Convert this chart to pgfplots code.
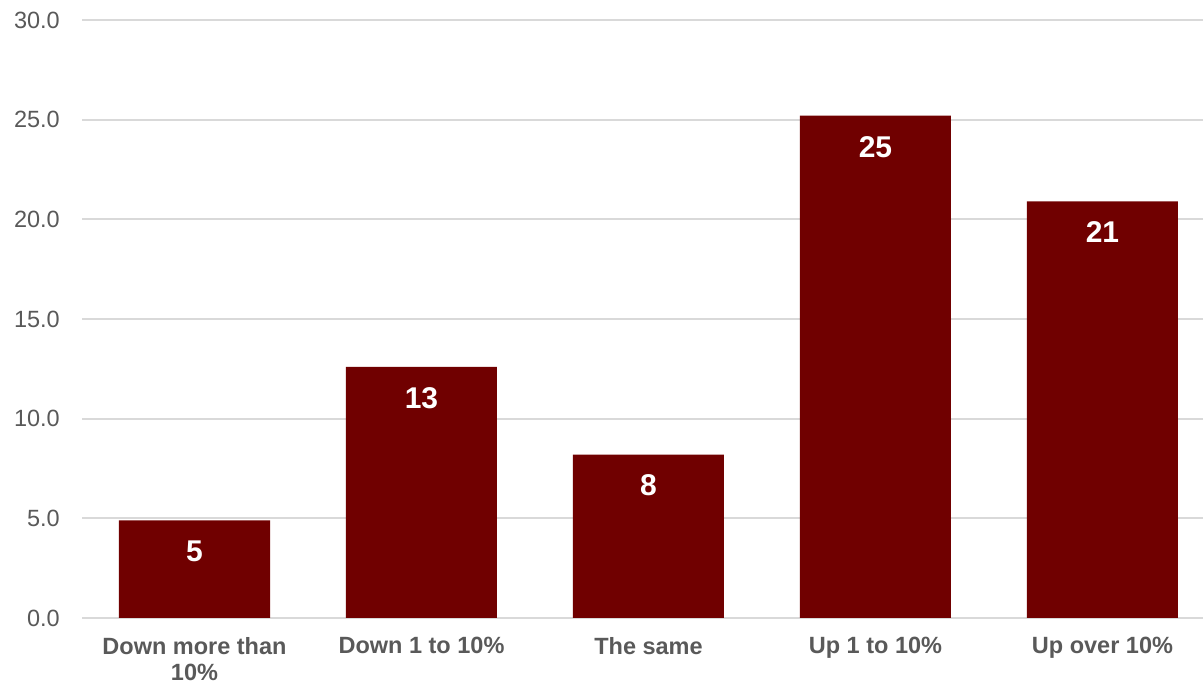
\documentclass[border=0pt]{standalone}
\usepackage{pgfplots}
\pgfplotsset{compat=1.18}
\usepackage{fontspec}
\setmainfont{Liberation Sans}
\definecolor{barred}{HTML}{700000}
\definecolor{gridgray}{HTML}{D9D9D9}
\definecolor{txtgray}{HTML}{595959}
\begin{document}
\begin{tikzpicture}
\useasboundingbox (0,0) rectangle (1203bp,684bp);
\begin{axis}[
  at={(82bp,66bp)}, anchor=south west,
  scale only axis, width=1121bp, height=598bp,
  xmin=-0.4956, xmax=4.443, ymin=0, ymax=30,
  ytick={0,5,...,30},
  xtick={0,1,2,3,4},
  xticklabels={{Down more than\\10\%},{Down 1 to 10\%},{The same},{Up 1 to 10\%},{Up over 10\%}},
  axis line style={draw=none},
  major tick length=0pt,
  ymajorgrids, grid style={gridgray, line width=1.8bp},
  yticklabel style={anchor=east, inner sep=0pt, xshift=-22bp, text=txtgray,
    font=\fontsize{23.5bp}{27bp}\selectfont,
    /pgf/number format/.cd, fixed, fixed zerofill, precision=1, assume math mode=true},
  xticklabel style={anchor=north, inner sep=0pt, yshift=-19bp, align=center, text=txtgray,
    font=\bfseries\fontsize{23.5bp}{26.5bp}\selectfont},
  ybar, bar width=151bp,
  point meta=y,
  nodes near coords={\pgfmathprintnumber[fixed,precision=0,assume math mode=true]{\pgfplotspointmeta}},
  nodes near coords style={anchor=center, yshift=-31bp, text=white,
    font=\bfseries\fontsize{30bp}{34bp}\selectfont},
]
\addplot[fill=barred, draw=none] coordinates {(0,4.9) (1,12.6) (2,8.2) (3,25.2) (4,20.9)};
\end{axis}
\end{tikzpicture}
\end{document}
